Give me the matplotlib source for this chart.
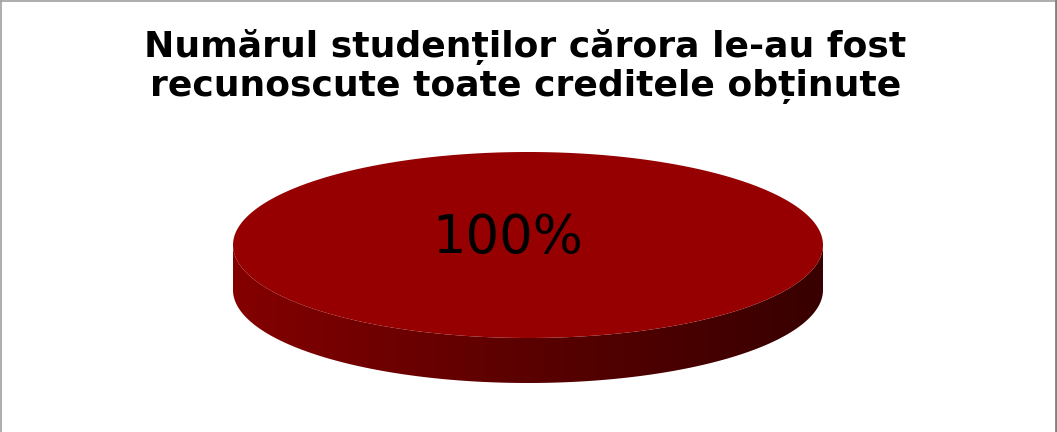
import matplotlib
matplotlib.use("Agg")
import matplotlib.pyplot as plt
import numpy as np
from matplotlib.patches import Polygon

title = "Numărul studenților cărora le-au fost\nrecunoscute toate creditele obținute"
categories = ["Recunoscute"]
values = [100]
labels = ["100%"]

W, H = 1057, 432
cx, cy = 528, 245      # centre of the top face, pixels
rx, ry = 295, 93       # radii of the top face
depth = 45             # thickness of the disc
top_color = "#960000"


def main():
    fig = plt.figure(figsize=(W / 100, H / 100), dpi=100)
    ax = fig.add_axes([0, 0, 1, 1])
    ax.set_xlim(0, W)
    ax.set_ylim(H, 0)
    ax.axis("off")

    fracs = np.array(values, dtype=float) / sum(values)
    edges = np.concatenate([[0], np.cumsum(fracs)]) * 2 * np.pi

    # side of the disc (front half), left-to-right gradient
    t = np.linspace(np.pi, 0, 200)
    xs = cx - rx * np.cos(t)
    ys = cy + ry * np.sin(t)
    side = np.vstack([np.column_stack([xs, ys]),
                      np.column_stack([xs[::-1], ys[::-1] + depth])])
    poly = Polygon(side, closed=True, facecolor="none", edgecolor="none")
    ax.add_patch(poly)
    grad = np.linspace(0, 1, 256).reshape(1, -1)
    cmap = matplotlib.colors.LinearSegmentedColormap.from_list(
        "side", ["#840000", "#5a0000", "#380000"])
    im = ax.imshow(grad, cmap=cmap, aspect="auto",
                   extent=[cx - rx, cx + rx, cy + ry + depth, cy], zorder=1)
    im.set_clip_path(poly)

    # top face, one wedge per value
    for i in range(len(values)):
        a = np.linspace(edges[i], edges[i + 1], 300)
        pts = np.column_stack([cx + rx * np.cos(a), cy - ry * np.sin(a)])
        if fracs[i] < 1:
            pts = np.vstack([[cx, cy], pts])
        ax.add_patch(Polygon(pts, closed=True, facecolor=top_color,
                             edgecolor="none", zorder=2))
        mid = (edges[i] + edges[i + 1]) / 2
        r = 0 if fracs[i] >= 1 else 0.6
        ax.text(cx - 20 + r * rx * np.cos(mid), cy - 7 - r * ry * np.sin(mid),
                labels[i], ha="center", va="center", fontsize=38,
                family="DejaVu Sans", color="black", zorder=3)

    fig.text(0.497, 0.932, title, ha="center", va="top", fontsize=26,
             fontweight="bold", family="DejaVu Sans", linespacing=1.12)

    # frame
    ax.plot([0.5, 0.5], [H, 0.5], color="#a0a0a0", lw=1.2)
    ax.plot([0.5, W - 2], [0.5, 0.5], color="#a0a0a0", lw=1.2)
    ax.plot([W - 1.5, W - 1.5], [0, H], color="#808080", lw=2)

    fig.savefig("out.png", dpi=100)


if __name__ == "__main__":
    main()
